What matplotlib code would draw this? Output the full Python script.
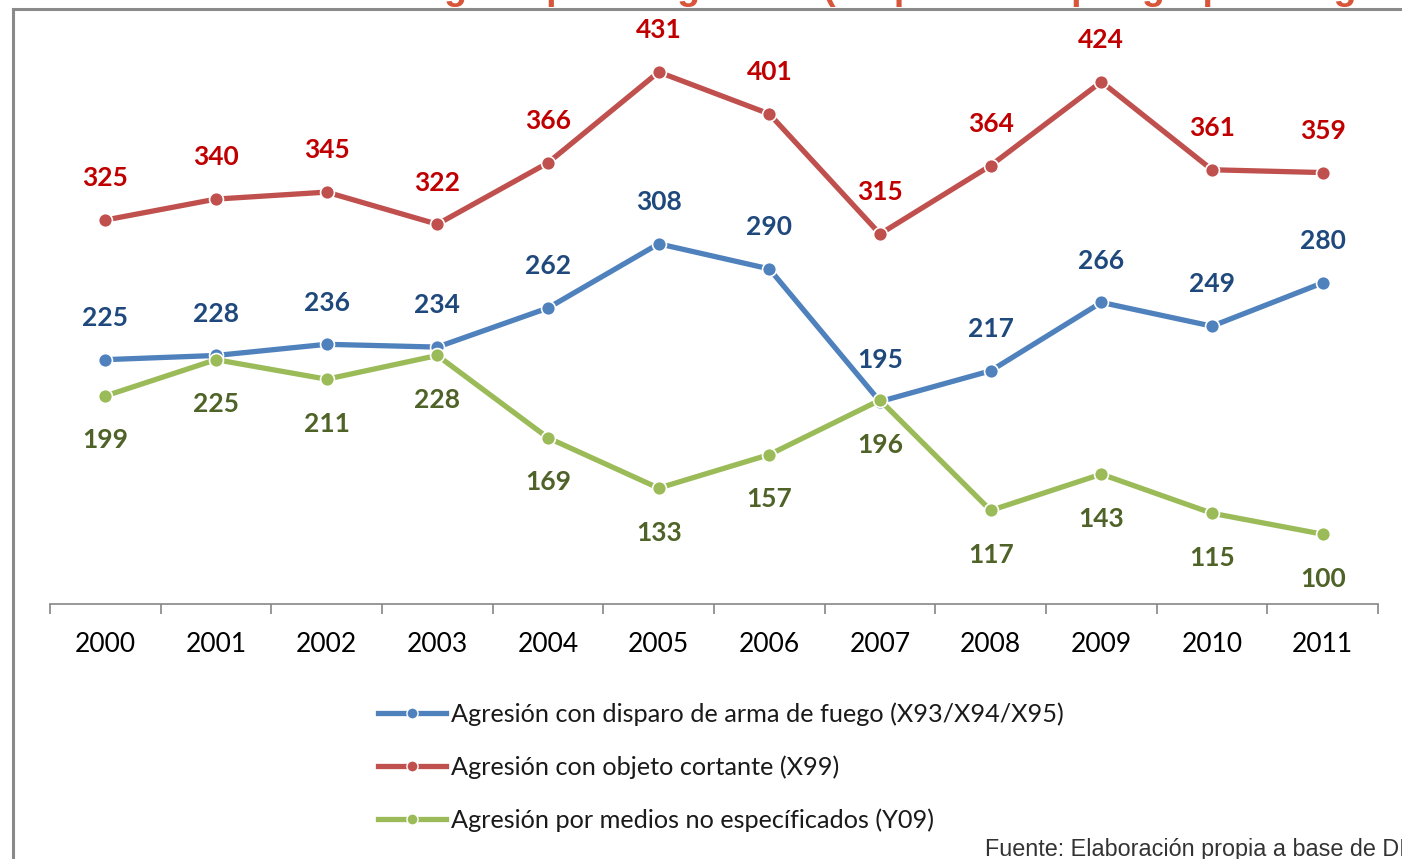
import matplotlib
matplotlib.use("Agg")
import matplotlib.pyplot as plt
from matplotlib.lines import Line2D
from matplotlib.patches import Rectangle

years = ["2000", "2001", "2002", "2003", "2004", "2005", "2006", "2007", "2008", "2009", "2010", "2011"]
arma_fuego = [225, 228, 236, 234, 262, 308, 290, 195, 217, 266, 249, 280]
objeto_cortante = [325, 340, 345, 322, 366, 431, 401, 315, 364, 424, 361, 359]
no_especificados = [199, 225, 211, 228, 169, 133, 157, 196, 117, 143, 115, 100]
series_labels = [
    "Agresión con disparo de arma de fuego (X93/X94/X95)",
    "Agresión con objeto cortante (X99)",
    "Agresión por medios no específicados (Y09)",
]
title_text = "Gráfico N° 1: Homicidios según tipo de agresión (En personas por grupo de agresión)"
source_text = "Fuente: Elaboración propia a base de DIGESTYC"

W, H = 1402, 859
fig = plt.figure(figsize=(W / 100, H / 100), dpi=100)
fig.patch.set_facecolor("white")

def fx(px):
    return px / W

def fy(py):
    return 1 - py / H

# outer frame (cut off on right / bottom)
fig.patches.append(Rectangle((fx(13), fy(900)), fx(1500), (900 - 9) / H,
                             transform=fig.transFigure, fill=False,
                             edgecolor="#8a8a8a", linewidth=2.2, clip_on=True))

# cut-off title (only its lower part is visible, as in the screenshot)
fig.text(fx(-48), fy(-1), title_text, ha="left", va="baseline",
         fontsize=27, fontweight="bold", color="#D9553A", family="Liberation Sans")

ax = fig.add_axes([fx(50), fy(604), fx(1328), (604 - 45.5) / H])
ax.set_xlim(-0.5, 11.5)
ax.set_ylim(50, 450)
x = list(range(len(years)))

font = "Lato"
specs = [
    (arma_fuego, "#4F81BD", "#1F497D", 1),
    (objeto_cortante, "#C0504D", "#C00000", 1),
    (no_especificados, "#9BBB59", "#4F6228", -1),
]
handles = []
for (vals, lc, tc, side), lab in zip(specs, series_labels):
    ax.plot(x, vals, color=lc, lw=3.8, marker="o", ms=10, mfc=lc, mec="white",
            mew=1.2, solid_capstyle="round", solid_joinstyle="round", zorder=3)
    for xi, v in zip(x, vals):
        ax.annotate(str(v), (xi, v), xytext=(0, 30 * side if side > 0 else -32),
                    textcoords="offset points",
                    ha="center", va="center", fontsize=19, fontweight="bold",
                    color=tc, family=font)
    handles.append(Line2D([0], [0], color=lc, lw=3.8, marker="o", ms=8, mfc=lc,
                          mec="white", mew=1.0))

for s in ["top", "right", "left"]:
    ax.spines[s].set_visible(False)
ax.spines["bottom"].set_color("#868686")
ax.spines["bottom"].set_linewidth(1.2)
ax.set_yticks([])
ax.set_xticks([i - 0.5 for i in range(len(years) + 1)])
ax.set_xticklabels([])
ax.tick_params(axis="x", which="major", length=7, width=1.2, color="#868686")
ax.set_xticks(x, minor=True)
ax.set_xticklabels(years, minor=True, fontsize=19, family=font, color="#000000")
ax.tick_params(axis="x", which="minor", length=0, pad=20)

leg = fig.legend(handles, series_labels, loc="upper left",
                 bbox_to_anchor=(fx(368), fy(692)), frameon=False,
                 prop={"family": font, "size": 18.2}, handlelength=2.7,
                 handletextpad=0.2, labelspacing=1.17, borderaxespad=0)
for t in leg.get_texts():
    t.set_color("#1a1a1a")

fig.text(fx(985), fy(856), source_text, ha="left", va="baseline",
         fontsize=16.8, color="#333333", family="Liberation Sans")

fig.savefig("out.png", dpi=100, facecolor="white")
